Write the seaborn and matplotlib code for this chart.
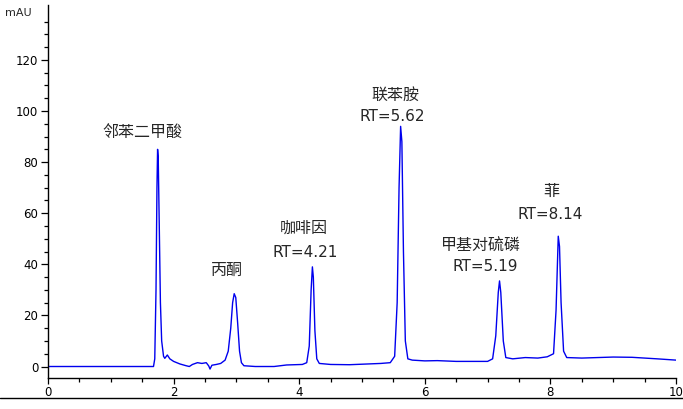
"""
plot.py - HPLC chromatogram with labelled peaks
"""

import matplotlib

matplotlib.use("Agg")

import matplotlib.pyplot as plt
from matplotlib.lines import Line2D
from matplotlib.ticker import MultipleLocator, FixedLocator
import pandas as pd
import seaborn as sns


# retention time (min) and absorbance (mAU)
time_min = [
    0.0, 1.0, 1.68, 1.70, 1.72, 1.735, 1.745, 1.755, 1.77, 1.79, 1.81, 1.84,
    1.86, 1.90, 1.94, 2.0, 2.1, 2.2, 2.25, 2.3, 2.38, 2.45, 2.52, 2.56, 2.58,
    2.61, 2.68, 2.75, 2.82, 2.87, 2.91, 2.94, 2.965, 2.99, 3.02, 3.05, 3.08,
    3.12, 3.3, 3.6, 3.8, 4.05, 4.12, 4.16, 4.19, 4.21, 4.225, 4.25, 4.28, 4.32,
    4.5, 4.8, 5.3, 5.45, 5.52, 5.56, 5.59, 5.615, 5.635, 5.66, 5.69, 5.73,
    5.8, 6.0, 6.2, 6.5, 7.0, 7.08, 7.13, 7.17, 7.19, 7.21, 7.25, 7.29, 7.4,
    7.6, 7.8, 7.95, 8.05, 8.09, 8.125, 8.145, 8.17, 8.21, 8.26, 8.5, 9.0,
    9.3, 9.7, 10.0,
]
signal_mau = [
    0.0, 0.0, 0.0, 3.0, 30.0, 70.0, 85.0, 82.0, 58.0, 25.0, 10.0, 4.0,
    3.2, 4.5, 3.0, 2.0, 1.0, 0.3, 0.0, 0.8, 1.5, 1.2, 1.5, 0.2, -1.0,
    0.5, 0.8, 1.2, 2.5, 6.0, 15.0, 25.0, 28.5, 27.0, 17.0, 6.0, 1.5,
    0.3, 0.0, 0.0, 0.6, 0.8, 1.5, 8.0, 30.0, 39.0, 35.0, 14.0, 3.0, 1.2,
    0.8, 0.7, 1.2, 1.5, 4.0, 25.0, 70.0, 94.0, 88.0, 45.0, 10.0, 3.0,
    2.5, 2.2, 2.3, 2.0, 2.0, 3.0, 12.0, 29.0, 33.5, 29.0, 10.0, 3.5, 3.0,
    3.5, 3.3, 3.8, 5.0, 22.0, 51.0, 47.0, 25.0, 6.0, 3.5, 3.3, 3.7,
    3.6, 3.0, 2.5,
]

# peak labels: (text, x, y) in data units
peak_names = ["邻苯二甲酸", "丙酮", "咖啡因", "联苯胺", "甲基对硫磷", "菲"]
name_x = [1.50, 2.85, 4.07, 5.53, 6.89, 8.02]
name_y = [91.6, 37.8, 54.3, 106.0, 47.0, 68.7]
rt_labels = ["RT=4.21", "RT=5.62", "RT=5.19", "RT=8.14"]
rt_x = [4.09, 5.48, 6.96, 8.00]
rt_y = [44.6, 98.0, 39.2, 59.5]

y_major = [0, 20, 40, 60, 80, 100, 120]

df = pd.DataFrame({"time": time_min, "mAU": signal_mau})

sns.set_style("ticks")
plt.rcParams["font.family"] = ["DejaVu Sans", "Noto Sans CJK SC"]

fig = plt.figure(figsize=(6.83, 4.09), dpi=100)
ax = fig.add_axes([48 / 683, 1 - 378 / 409, 628 / 683, 373 / 409])

sns.lineplot(data=df, x="time", y="mAU", ax=ax, color="#0000ee",
             linewidth=1.0, sort=False, estimator=None)

ax.set_xlim(0, 10)
ax.set_ylim(-4.5, 141.5)
ax.xaxis.set_major_locator(MultipleLocator(2))
ax.xaxis.set_minor_locator(MultipleLocator(0.5))
ax.yaxis.set_major_locator(FixedLocator(y_major))
ax.yaxis.set_minor_locator(FixedLocator(list(range(0, 140, 5))))
ax.set_xlabel("")
ax.set_ylabel("")
ax.tick_params(axis="both", which="major", direction="out", labelsize=8.5,
               colors="black", width=0.9)
ax.tick_params(axis="y", which="major", length=5, pad=2)
ax.tick_params(axis="x", which="major", length=4, pad=2)
ax.tick_params(axis="both", which="minor", direction="out", length=3,
               width=0.9, colors="black")
sns.despine(ax=ax)
for side in ["left", "bottom"]:
    ax.spines[side].set_color("black")
    ax.spines[side].set_linewidth(1)

for name, x, y in zip(peak_names, name_x, name_y):
    ax.text(x, y, name, ha="center", va="center", fontsize=11.5)
for label, x, y in zip(rt_labels, rt_x, rt_y):
    ax.text(x, y, label, ha="center", va="center", fontsize=11)

fig.text(5 / 683, 1 - 13 / 409, "mAU", ha="left", va="center", fontsize=8)
fig.add_artist(Line2D([0, 1], [1 - 398 / 409, 1 - 398 / 409],
                      transform=fig.transFigure, color="black", linewidth=1))

fig.savefig("out.png", dpi=100)
plt.close(fig)
